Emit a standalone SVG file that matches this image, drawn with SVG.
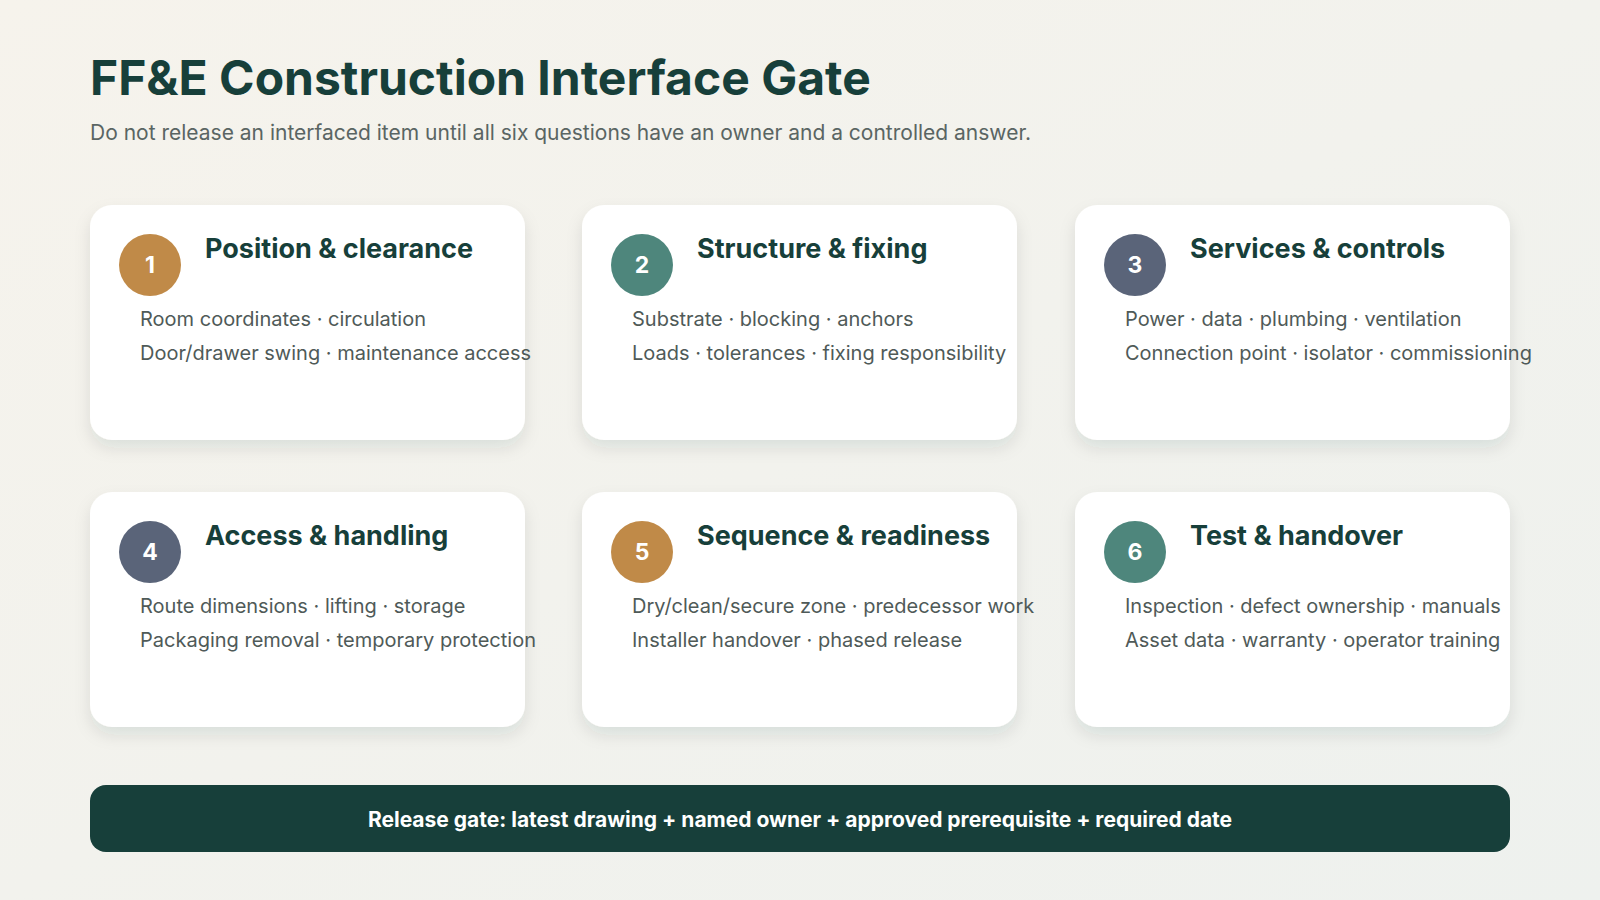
<svg xmlns="http://www.w3.org/2000/svg" width="1600" height="900" viewBox="0 0 1600 900">
<defs>
<linearGradient id="bg" x1="0" y1="0" x2="1" y2="1"><stop offset="0" stop-color="#f6f3ec"/><stop offset="1" stop-color="#eef1ee"/></linearGradient>
<filter id="sh" x="-10%" y="-10%" width="120%" height="130%"><feDropShadow dx="0" dy="8" stdDeviation="8" flood-color="#1b3a35" flood-opacity="0.10"/></filter>
</defs>
<style>
.card{fill:#fff;filter:url(#sh)}
.h{font-family:Inter,"Liberation Sans",sans-serif;font-weight:700;font-size:27px;fill:#173f3a}
.b{font-family:Inter,"Liberation Sans",sans-serif;font-size:20px;fill:#4f5a58}
.n{font-family:Inter,"Liberation Sans",sans-serif;font-weight:700;font-size:23px;fill:#fff;text-anchor:middle}
</style>
<rect width="1600" height="900" fill="url(#bg)"/>
<text x="90" y="95" font-family="Inter,'Liberation Sans',sans-serif" font-weight="700" font-size="48" fill="#173f3a">FF&amp;E Construction Interface Gate</text>
<text x="90" y="140" font-family="Inter,'Liberation Sans',sans-serif" font-size="21" fill="#5a6563">Do not release an interfaced item until all six questions have an owner and a controlled answer.</text>
<g id="n1"><rect class="card" x="90" y="205" width="435" height="235" rx="22"/><circle cx="150" cy="265" r="31" fill="#c08a48"/><text class="n" x="150" y="273">1</text><text class="h" x="205" y="258">Position &amp; clearance</text><text class="b" x="140" y="326">Room coordinates · circulation</text><text class="b" x="140" y="360">Door/drawer swing · maintenance access</text></g>
<g id="n2"><rect class="card" x="582" y="205" width="435" height="235" rx="22"/><circle cx="642" cy="265" r="31" fill="#4e867c"/><text class="n" x="642" y="273">2</text><text class="h" x="697" y="258">Structure &amp; fixing</text><text class="b" x="632" y="326">Substrate · blocking · anchors</text><text class="b" x="632" y="360">Loads · tolerances · fixing responsibility</text></g>
<g id="n3"><rect class="card" x="1075" y="205" width="435" height="235" rx="22"/><circle cx="1135" cy="265" r="31" fill="#5a6479"/><text class="n" x="1135" y="273">3</text><text class="h" x="1190" y="258">Services &amp; controls</text><text class="b" x="1125" y="326">Power · data · plumbing · ventilation</text><text class="b" x="1125" y="360">Connection point · isolator · commissioning</text></g>
<g id="n4"><rect class="card" x="90" y="492" width="435" height="235" rx="22"/><circle cx="150" cy="552" r="31" fill="#5a6479"/><text class="n" x="150" y="560">4</text><text class="h" x="205" y="545">Access &amp; handling</text><text class="b" x="140" y="613">Route dimensions · lifting · storage</text><text class="b" x="140" y="647">Packaging removal · temporary protection</text></g>
<g id="n5"><rect class="card" x="582" y="492" width="435" height="235" rx="22"/><circle cx="642" cy="552" r="31" fill="#c08a48"/><text class="n" x="642" y="560">5</text><text class="h" x="697" y="545">Sequence &amp; readiness</text><text class="b" x="632" y="613">Dry/clean/secure zone · predecessor work</text><text class="b" x="632" y="647">Installer handover · phased release</text></g>
<g id="n6"><rect class="card" x="1075" y="492" width="435" height="235" rx="22"/><circle cx="1135" cy="552" r="31" fill="#4e867c"/><text class="n" x="1135" y="560">6</text><text class="h" x="1190" y="545">Test &amp; handover</text><text class="b" x="1125" y="613">Inspection · defect ownership · manuals</text><text class="b" x="1125" y="647">Asset data · warranty · operator training</text></g>
<g id="connectors"></g>
<g id="gate"><rect x="90" y="785" width="1420" height="67" rx="16" fill="#173f3a"/><text x="800" y="827" text-anchor="middle" font-family="Inter,'Liberation Sans',sans-serif" font-weight="700" font-size="21" fill="#fff">Release gate: latest drawing + named owner + approved prerequisite + required date</text></g>
</svg>
